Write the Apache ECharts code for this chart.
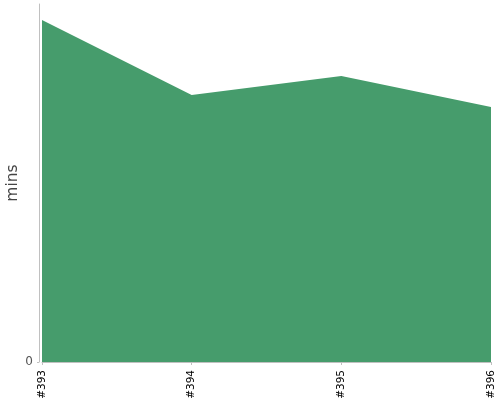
<!DOCTYPE html>
<html><head><meta charset="utf-8">
<script src="https://cdn.jsdelivr.net/npm/echarts@6/dist/echarts.min.js"></script>
<style>html,body{margin:0;padding:0;background:#fff}#c{width:500px;height:400px}</style>
</head><body><div id="c"></div>
<script>
const categories = ['#393', '#394', '#395', '#396'];
const minsValues = [95.5, 74.6, 79.9, 71.2];
const yTickValues = [0];
const yTickLabels = ['0'];

const chart = echarts.init(document.getElementById('c'), null, {renderer: 'canvas'});
chart.setOption({
  animation: false,
  grid: {left: 42, right: 9, top: 4, bottom: 38, containLabel: false, outerBoundsMode: 'none'},
  xAxis: {
    type: 'category', data: categories, boundaryGap: false, offset: 3,
    axisLine: {lineStyle: {color: '#c0c0c0', width: 1}},
    axisTick: {show: true, length: 3, lineStyle: {color: '#c0c0c0'}},
    axisLabel: {rotate: 90, fontSize: 10.5, color: '#000', fontFamily: 'DejaVu Sans', margin: 5}
  },
  yAxis: {
    type: 'value', min: 0, max: 100, interval: 100, offset: 3,
    name: 'mins', nameLocation: 'middle', nameGap: 18, nameMoveOverlap: false,
    nameTextStyle: {fontSize: 15.5, color: '#444', fontFamily: 'DejaVu Sans'},
    splitLine: {show: false},
    axisLine: {show: true, lineStyle: {color: '#c0c0c0', width: 1}},
    axisTick: {show: true, length: 2, customValues: yTickValues, lineStyle: {color: '#c0c0c0'}},
    axisLabel: {fontSize: 12, color: '#555', fontFamily: 'DejaVu Sans', margin: 6,
      customValues: yTickValues, formatter: v => yTickLabels[yTickValues.indexOf(v)] || ''}
  },
  series: [{
    type: 'line', data: minsValues, symbol: 'none',
    lineStyle: {width: 0},
    areaStyle: {color: '#469c6c', opacity: 1}
  }]
});
</script></body></html>
